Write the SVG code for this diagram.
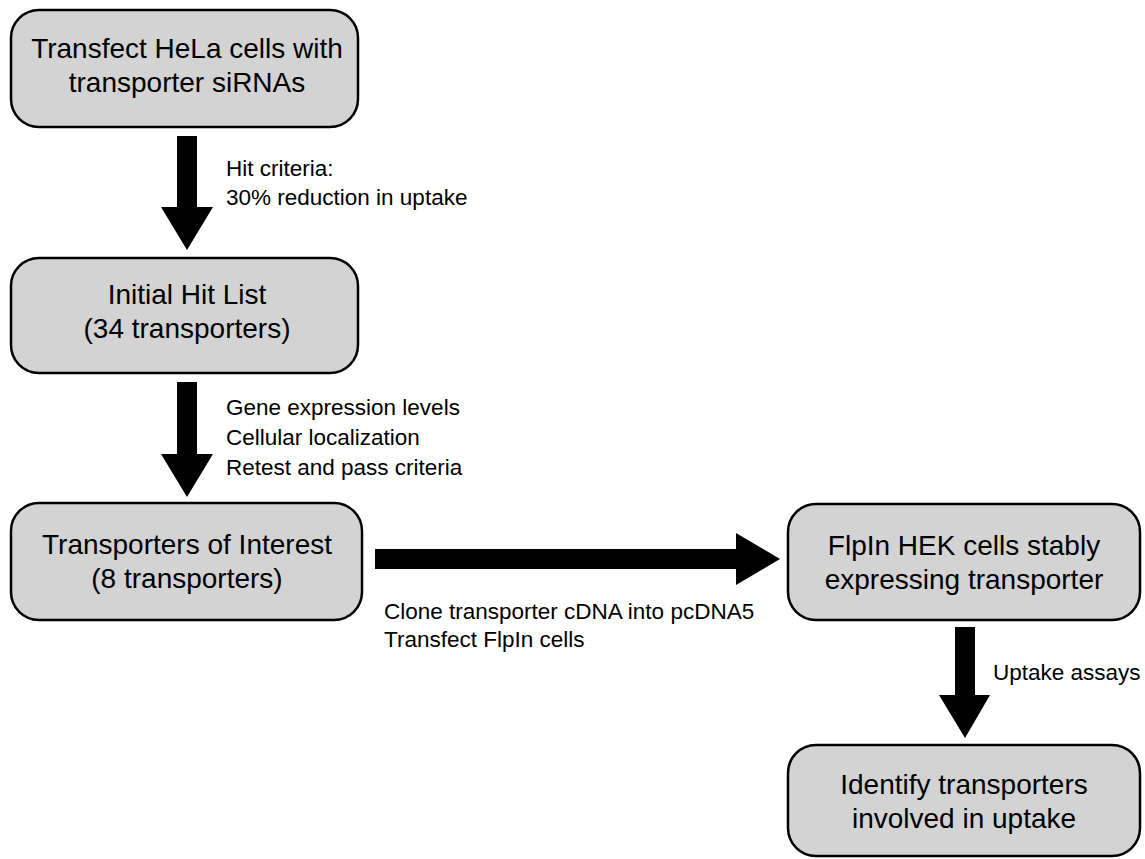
<svg xmlns="http://www.w3.org/2000/svg" width="1145" height="859" viewBox="0 0 1145 859">
  <style>
    .box { fill: #d3d3d3; stroke: #000; stroke-width: 2.5; }
    .main { font-family: "Liberation Sans", Arial, sans-serif; font-size: 28px; fill: #000; text-anchor: middle; }
    .note { font-family: "Liberation Sans", Arial, sans-serif; font-size: 22.5px; fill: #000; }
    .arrow { fill: #000; }
  </style>
  <rect width="1145" height="859" fill="#fff"/>

  <!-- Block arrows between steps -->
  <g id="connectors">
    <polygon class="arrow" points="177,136 197,136 197,207 213,207 187,250 161,207 177,207"/>
    <polygon class="arrow" points="177,382 197,382 197,454 213,454 187,497 161,454 177,454"/>
    <polygon class="arrow" points="375,549 736,549 736,533 780,559 736,585 736,569 375,569"/>
    <polygon class="arrow" points="955,627 975,627 975,695 990,695 965,738 939,695 955,695"/>
    <text class="note" x="226" y="176">Hit criteria:</text>
    <text class="note" x="226" y="205">30% reduction in uptake</text>
    <text class="note" x="226" y="415">Gene expression levels</text>
    <text class="note" x="226" y="445">Cellular localization</text>
    <text class="note" x="226" y="475">Retest and pass criteria</text>
    <text class="note" x="384" y="619">Clone transporter cDNA into pcDNA5</text>
    <text class="note" x="384" y="647">Transfect FlpIn cells</text>
    <text class="note" x="993" y="680">Uptake assays</text>
  </g>

  <g id="transfect">
    <rect class="box" x="11" y="10" width="347" height="117" rx="28"/>
    <text class="main" x="187" y="58">Transfect HeLa cells with</text>
    <text class="main" x="187" y="92">transporter siRNAs</text>
  </g>

  <g id="initial-hits">
    <rect class="box" x="11" y="258" width="347" height="115" rx="28"/>
    <text class="main" x="187" y="304">Initial Hit List</text>
    <text class="main" x="187" y="338">(34 transporters)</text>
  </g>

  <g id="interest">
    <rect class="box" x="11" y="503" width="351" height="117" rx="28"/>
    <text class="main" x="187" y="554">Transporters of Interest</text>
    <text class="main" x="187" y="588">(8 transporters)</text>
  </g>

  <g id="flpin">
    <rect class="box" x="788" y="504" width="352" height="116" rx="28"/>
    <text class="main" x="964" y="555">FlpIn HEK cells stably</text>
    <text class="main" x="964" y="589">expressing transporter</text>
  </g>

  <g id="identify">
    <rect class="box" x="788" y="745" width="352" height="111" rx="28"/>
    <text class="main" x="964" y="794">Identify transporters</text>
    <text class="main" x="964" y="828">involved in uptake</text>
  </g>
</svg>
